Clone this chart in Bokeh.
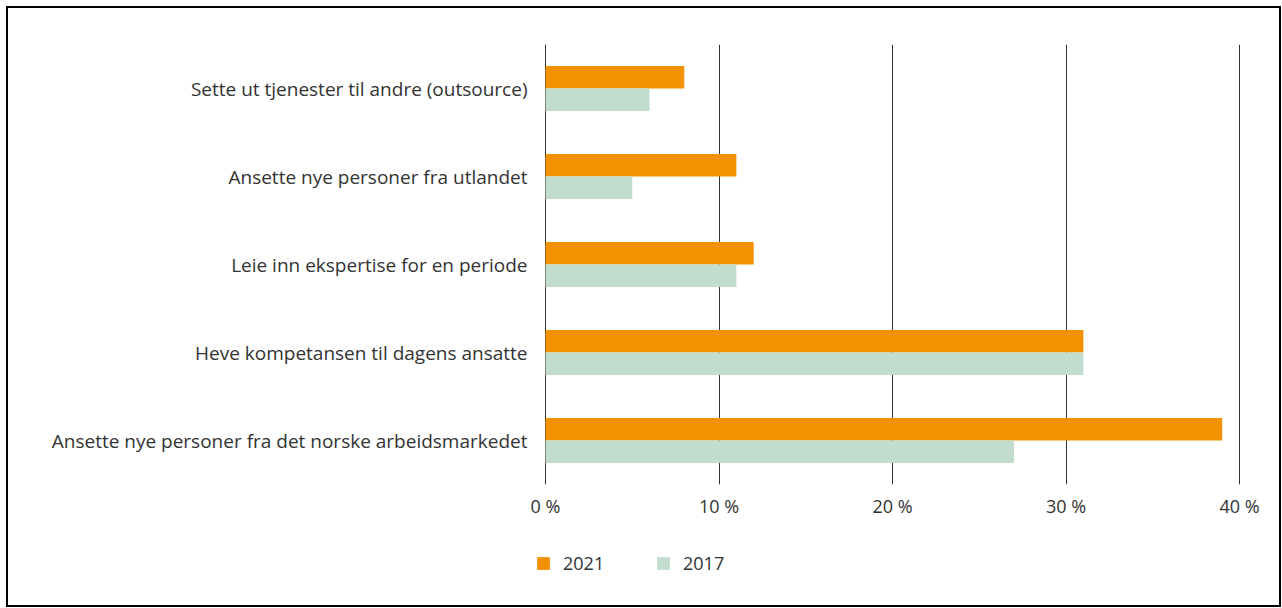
from bokeh.plotting import figure
from bokeh.layouts import column
from bokeh.models import ColumnDataSource, FactorRange, Range1d, FixedTicker, PrintfTickFormatter, Legend, LegendItem
from bokeh.transform import dodge
from bokeh.embed import file_html
from bokeh.resources import INLINE

categories = [
    "Sette ut tjenester til andre (outsource)",
    "Ansette nye personer fra utlandet",
    "Leie inn ekspertise for en periode",
    "Heve kompetansen til dagens ansatte",
    "Ansette nye personer fra det norske arbeidsmarkedet",
]
values_2021 = [8, 11, 12, 31, 39]
values_2017 = [6, 5, 11, 31, 27]
x_ticks = [0, 10, 20, 30, 40]
series_labels = ["2021", "2017"]

ORANGE = "#F39200"
GREEN = "#C2DDCF"
TEXT = "#333333"
FONT = "Open Sans"

src = ColumnDataSource(dict(cat=categories, v2021=values_2021, v2017=values_2017))

p = figure(
    width=1271, height=522,
    y_range=FactorRange(factors=list(reversed(categories))),
    x_range=Range1d(-0.576, 40.17),
    output_backend="svg", toolbar_location=None,
    min_border_left=527, min_border_right=37, min_border_top=36, min_border_bottom=46,
)
p.outline_line_color = None
p.background_fill_color = "white"
p.border_fill_color = "white"

p.hbar(y=dodge("cat", 0.128, range=p.y_range), right="v2021", left=0, height=0.255,
       source=src, fill_color=ORANGE, line_color=None)
p.hbar(y=dodge("cat", -0.128, range=p.y_range), right="v2017", left=0, height=0.255,
       source=src, fill_color=GREEN, line_color=None)

p.xaxis.ticker = FixedTicker(ticks=x_ticks)
p.xaxis.formatter = PrintfTickFormatter(format="%d %%")
p.xaxis.axis_line_color = None
p.xaxis.major_tick_line_color = None
p.xaxis.minor_tick_line_color = None
p.xaxis.major_label_standoff = 3
p.xaxis.major_label_text_font = FONT
p.xaxis.major_label_text_font_size = "18px"
p.xaxis.major_label_text_color = TEXT

p.yaxis.axis_line_color = None
p.yaxis.major_tick_line_color = None
p.yaxis.minor_tick_line_color = None
p.yaxis.major_label_standoff = 2
p.yaxis.major_label_text_font = FONT
p.yaxis.major_label_text_font_size = "19px"
p.yaxis.major_label_text_color = TEXT

p.ygrid.grid_line_color = None
p.xgrid.ticker = FixedTicker(ticks=x_ticks)
p.xgrid.grid_line_color = "#333333"
p.xgrid.grid_line_width = 1

# legend strip below the chart
leg = figure(
    width=1271, height=75, x_range=Range1d(0, 1), y_range=Range1d(0, 1),
    x_axis_type=None, y_axis_type=None,
    output_backend="svg", toolbar_location=None,
    min_border_left=525, min_border_right=0, min_border_top=21, min_border_bottom=0,
)
leg.outline_line_color = None
leg.xgrid.visible = False
leg.ygrid.visible = False
nan = float("nan")
l1 = leg.hbar(y=[nan], right=[nan], height=0.5, fill_color=ORANGE, line_color=None)
l2 = leg.hbar(y=[nan], right=[nan], height=0.5, fill_color=GREEN, line_color=None)

legend = Legend(
    items=[LegendItem(label=series_labels[0], renderers=[l1]),
           LegendItem(label=series_labels[1], renderers=[l2])],
    orientation="horizontal", location="top_left",
    glyph_width=16, glyph_height=16, label_height=16, label_width=80,
    label_standoff=12, spacing=12, padding=0, margin=0,
    border_line_color=None, background_fill_alpha=0,
    label_text_font=FONT, label_text_font_size="18px", label_text_color=TEXT,
)
leg.add_layout(legend, "center")

layout = column(p, leg, spacing=0)
layout.styles = {"border": "2px solid black", "margin-left": "6px", "margin-top": "6px"}

open("out.html", "w").write(file_html(layout, INLINE))
